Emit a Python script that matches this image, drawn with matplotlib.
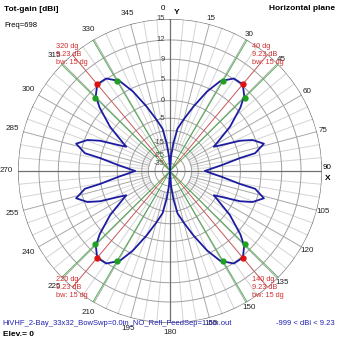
import numpy as np
import matplotlib.pyplot as plt

plt.rcParams['font.family'] = ['Liberation Sans', 'DejaVu Sans']

# radial scale of the plot (dB -> fraction of outer ring)
scale_db = [-45, -35, -25, -15, -10, -5, 0, 5, 9, 12, 15]
scale_r = [0.0, 0.05, 0.099, 0.186, 0.266, 0.347, 0.463, 0.599, 0.735, 0.862, 1.0]

ring_db = [15, 12, 9, 5, 0, -5, -10, -15, -20, -25, -35]
ring_labels = [15, 12, 9, 5, 0, -5, -15, -25, -35]

# gain pattern, one quadrant (0..90 deg), the picture is symmetric on both axes
q_ang = np.array([0, 4, 7, 10, 14.6, 20, 25, 29.2, 34.6, 40, 44.7, 48, 53.6,
                  58.8, 61, 63.4, 66.6, 69.4, 73.8, 78.2, 79.5, 83.4, 90])
q_db = np.array([-45, -25, -15, -9, -5, -0.5, 4.2, 7.3, 9.1, 9.23, 7.8, 5.7, 1.0,
                 -4.2, -6.1, -3.5, 1.4, 4.3, 6.3, 4.0, 0.2, -5.1, -12.3])

lobe_ang = [40, 140, 220, 320]
lobe_db = [9.23, 9.23, 9.23, 9.23]
bw_ang = [30.5, 45.5, 134.5, 149.5, 210.5, 225.5, 314.5, 329.5]
bw_db = [7.5, 7.6, 7.6, 7.5, 7.5, 7.6, 7.6, 7.5]


def rr(d):
    return np.interp(d, scale_db, scale_r)


ang = np.concatenate([q_ang, 180 - q_ang[::-1], 180 + q_ang, 360 - q_ang[::-1]])
gain = np.concatenate([q_db, q_db[::-1], q_db, q_db[::-1]])

fig = plt.figure(figsize=(3.39, 3.39), dpi=100)
ax = fig.add_axes([0.0531, 0.0472, 0.8968, 0.8968], projection='polar')
ax.set_theta_zero_location('N')
ax.set_theta_direction(-1)
ax.axis('off')
ax.set_ylim(0, 1)

th = np.linspace(0, 2 * np.pi, 721)
# spokes
for a in range(0, 360, 5):
    if a % 90 == 0:
        continue
    c = '#a8a8a8' if a % 15 == 0 else '#d4d4d4'
    ax.plot([np.radians(a)] * 2, [rr(-20), 1], color=c, lw=0.7, zorder=1)
for a in [0, 90]:
    ax.plot([np.radians(a), np.radians(a + 180)], [1, 1], color='#707070', lw=0.9, zorder=2)
# rings
for d in ring_db:
    c = '#707070' if d == 15 else '#a0a0a0'
    ax.plot(th, np.full_like(th, rr(d)), color=c, lw=0.9 if d == 15 else 0.7, zorder=1)

for d in ring_labels:
    ax.annotate(str(d), xy=(0, rr(d)), xytext=(-3.5, 0), textcoords='offset points',
                ha='right', va='center', fontsize=5.5, color='#404040')

# angle labels
for a in range(0, 360, 15):
    t = np.radians(a)
    if a == 0:
        ax.text(np.radians(-2.6), 1.07, '0', ha='center', va='center', fontsize=5.8)
        ax.text(np.radians(2.3), 1.045, 'Y', ha='center', va='center', fontsize=6, fontweight='bold')
        continue
    if a == 90:
        ax.text(np.radians(88.9), 1.035, '90', ha='center', va='center', fontsize=5.8)
        ax.text(np.radians(92.7), 1.04, 'X', ha='center', va='center', fontsize=6, fontweight='bold')
        continue
    r = 1.04 if a < 180 else (1.06 if a == 180 else 1.075)
    ax.text(t, r, str(a), ha='center', va='center', fontsize=5.8, color='#202020')

# main lobe and beamwidth lines
for a in lobe_ang:
    ax.plot([np.radians(a)] * 2, [0, 1], color='#d05050', lw=0.6, zorder=3)
for a in bw_ang:
    ax.plot([np.radians(a)] * 2, [0, 1], color='#40a840', lw=0.6, zorder=3)

ax.plot(np.radians(ang), rr(gain), color='#1c1ca0', lw=1.3, zorder=4)
ax.plot(np.radians(bw_ang), rr(bw_db), 'o', color='#20a020', ms=3.5, zorder=5)
ax.plot(np.radians(lobe_ang), rr(lobe_db), 'o', color='#e01010', ms=3.5, zorder=5)

for a, d in zip(lobe_ang, lobe_db):
    ax.text(np.radians(a), 1.0, f'{a} dg\n{d} dB\nbw: 15 dg', ha='center', va='center',
            multialignment='left', fontsize=5.3, color='#d03030', linespacing=1.25, zorder=6)

fig.text(0.012, 0.972, 'Tot-gain [dBi]', fontsize=6, fontweight='bold', va='center')
fig.text(0.012, 0.926, 'Freq=698', fontsize=5.5, va='center')
fig.text(0.988, 0.976, 'Horizontal plane', fontsize=6, fontweight='bold', va='center', ha='right')
fig.text(0.008, 0.047, 'HiVHF_2-Bay_33x32_BowSwp=0.0in_NO_Refl_FeedSep=1.5in.out',
         fontsize=5.5, color='#2020b0', va='center')
fig.text(0.988, 0.047, '-999 < dBi < 9.23', fontsize=5.5, color='#2020b0', va='center', ha='right')
fig.text(0.008, 0.014, 'Elev.= 0', fontsize=6, fontweight='bold', va='center')

fig.savefig('out.png', dpi=100, facecolor='white')
